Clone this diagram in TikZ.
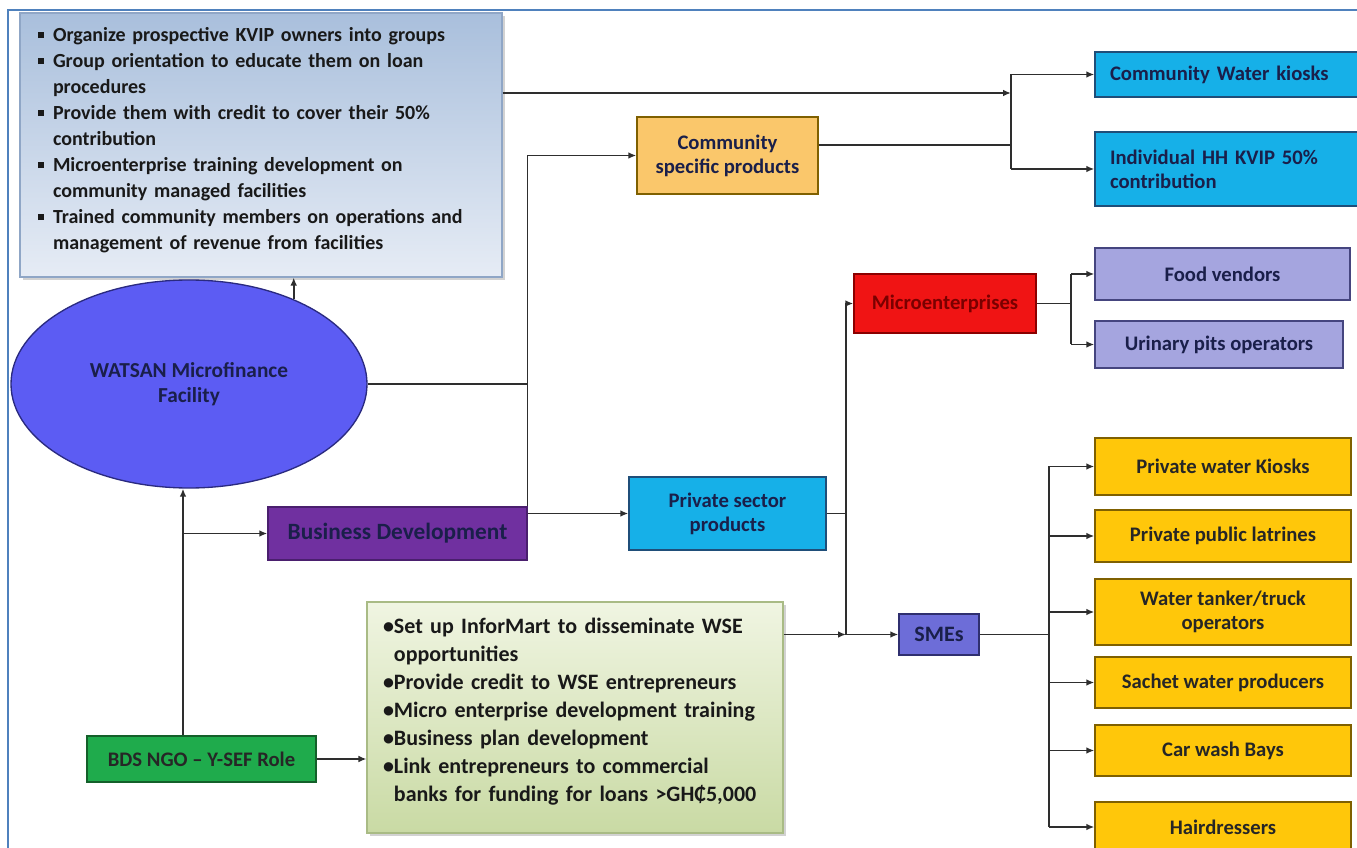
\documentclass[tikz,border=0pt]{standalone}
\usepackage{fontspec}
\setmainfont{Carlito}
\usetikzlibrary{arrows.meta,shapes.geometric,shadows}
\definecolor{frameblue}{HTML}{4F81BD}
\definecolor{navy}{HTML}{1A1F4A}
\definecolor{linec}{HTML}{2E2E2E}
\definecolor{infotop}{HTML}{A9BFDC}
\definecolor{infobot}{HTML}{E6ECF5}
\definecolor{infoedge}{HTML}{8FA6C6}
\definecolor{ellfill}{HTML}{5C5CF3}
\definecolor{elledge}{HTML}{2A2A80}
\definecolor{bdfill}{HTML}{7030A0}
\definecolor{bdedge}{HTML}{4A1F6E}
\definecolor{cyanfill}{HTML}{16B0E8}
\definecolor{cyanedge}{HTML}{1F4E79}
\definecolor{orfill}{HTML}{FAC76B}
\definecolor{oredge}{HTML}{7F6000}
\definecolor{redfill}{HTML}{F01414}
\definecolor{rededge}{HTML}{8B0000}
\definecolor{redtext}{HTML}{7A0000}
\definecolor{lavfill}{HTML}{A5A5DF}
\definecolor{lavedge}{HTML}{45457F}
\definecolor{smefill}{HTML}{6D6DD8}
\definecolor{smeedge}{HTML}{2F2F6F}
\definecolor{yelfill}{HTML}{FFC70A}
\definecolor{yeledge}{HTML}{7F6000}
\definecolor{grnfill}{HTML}{1FAB4C}
\definecolor{grnedge}{HTML}{14602A}
\definecolor{gtop}{HTML}{F0F5E2}
\definecolor{gbot}{HTML}{C9DAA4}
\definecolor{gedge}{HTML}{A9BB85}
\newcommand\sqbul{\makebox[11pt][l]{\rule[0.3ex]{0.3em}{0.3em}}}
\newcommand\gind{\phantom{•}}
\begin{document}
\begin{tikzpicture}[x=0.75pt,y=-0.75pt,
  rect/.style n args={4}{minimum width={(#3-#1)*0.75pt},minimum height={(#4-#2)*0.75pt},
     at={({(#1+#3)/2},{(#2+#4)/2})}},
  conn/.style={draw=linec,line width=1.2pt},
  arr/.style={conn,-{Latex[length=6pt,width=5pt]}},
  bx/.style={draw,line width=1pt,inner sep=0pt,text=navy,font=\bfseries\fontsize{15.5}{18}\selectfont,align=center},
  cyanbox/.style={bx,fill=cyanfill,draw=cyanedge},
  yelbox/.style={bx,fill=yelfill,draw=yeledge,text=black!85},
  lavbox/.style={bx,fill=lavfill,draw=lavedge},
  shad/.style={drop shadow={shadow xshift=2pt,shadow yshift=-2pt,opacity=0.35}}
]
\useasboundingbox (0,0) rectangle (1357,848);
\fill[white] (0,0) rectangle (1357,848);
\draw[frameblue,line width=1.6pt] (8,10) rectangle (1370,860);

% info box (top left)
\node[shad,draw=infoedge,line width=0.8pt,top color=infotop,bottom color=infobot,inner sep=0pt,
  rect={20}{13}{502}{277},align=left,text width=334pt,text=black!90,
  font=\bfseries\fontsize{15}{19.5}\selectfont] (info) {%
\sqbul Organize prospective KVIP owners into groups\\
\sqbul Group orientation to educate them on loan\\
\hspace*{11pt}procedures\\
\sqbul Provide them with credit to cover their 50\%\\
\hspace*{11pt}contribution\\
\sqbul Microenterprise training development on\\
\hspace*{11pt}community managed facilities\\
\sqbul Trained community members on operations and\\
\hspace*{11pt}management of revenue from facilities\\[-9pt]\mbox{}};

% ellipse
\node[ellipse,draw=elledge,line width=1pt,fill=ellfill,minimum width=267pt,minimum height=156pt,inner sep=0pt,
  align=center,text=navy,font=\bfseries\fontsize{16}{19}\selectfont] (wm) at (189,384) {WATSAN Microfinance\\Facility};

% boxes
\node[bx,fill=orfill,draw=oredge,rect={637}{117}{818}{194}] (csp) {Community\\specific products};
\node[bx,fill=bdfill,draw=bdedge,font=\bfseries\fontsize{17.5}{20}\selectfont,rect={268}{507}{527}{560}] (bd) {Business Development};
\node[bx,fill=cyanfill,draw=cyanedge,rect={629}{477}{826}{550}] (psp) {Private sector\\products};
\node[bx,fill=redfill,draw=rededge,text=redtext,rect={854}{274}{1036}{333}] (micro) {Microenterprises};
\node[bx,fill=smefill,draw=smeedge,font=\bfseries\fontsize{16.5}{19}\selectfont,rect={899}{614}{979}{655}] (sme) {SMEs};
\node[bx,fill=grnfill,draw=grnedge,text=black!85,rect={87}{736}{316}{782}] (bds) {BDS NGO -- Y-SEF Role};

\node[cyanbox,rect={1095}{52}{1365}{97},align=left,text width=180pt] (cwk) {Community Water kiosks};
\node[cyanbox,rect={1095}{132}{1365}{206},align=left,text width=180pt] (ihh) {Individual HH KVIP 50\%\\contribution};

\node[lavbox,rect={1095}{248}{1350}{300}] (fv) {Food vendors};
\node[lavbox,rect={1095}{321}{1343}{368}] (up) {Urinary pits operators};

\node[yelbox,rect={1095}{438}{1351}{495}] (y1) {Private water Kiosks};
\node[yelbox,rect={1095}{510}{1351}{562}] (y2) {Private public latrines};
\node[yelbox,rect={1095}{579}{1351}{645}] (y3) {Water tanker/truck\\operators};
\node[yelbox,rect={1095}{657}{1351}{708}] (y4) {Sachet water producers};
\node[yelbox,rect={1095}{725}{1351}{776}] (y5) {Car wash Bays};
\node[yelbox,rect={1095}{802}{1351}{852}] (y6) {Hairdressers};

% green info box
\node[shad,draw=gedge,line width=0.8pt,top color=gtop,bottom color=gbot,inner sep=0pt,
  rect={367}{602}{783}{833},align=left,text width=288pt,text=black!90,
  font=\bfseries\fontsize{16.5}{21}\selectfont] (g) {%
•Set up InforMart to disseminate WSE\\
\gind opportunities\\
•Provide credit to WSE entrepreneurs\\
•Micro enterprise development training\\
•Business plan development\\
•Link entrepreneurs to commercial\\
\gind banks for funding for loans >GH₵5,000\\[-10pt]\mbox{}};

% junction coordinates
\coordinate (j1) at (1011,93);
\coordinate (jv) at (183,533);
\coordinate (j2) at (846,500);
\coordinate (j3) at (1071,300);
\coordinate (j4) at (1049,600);
\coordinate (cspout) at (818,145);

% connectors
\draw[arr] (info.east |- j1) -- (j1);
\draw[conn] (j1 |- cwk.west) -- (j1 |- ihh.west);
\draw[arr] (j1 |- cwk.west) -- (cwk.west);
\draw[arr] (j1 |- ihh.west) -- (ihh.west);
\draw[conn] (csp.east |- cspout) -- (j1 |- cspout);

\draw[arr] (wm.39) -- (wm.39 |- info.south);
\draw[conn] (wm.east) -- (wm.east -| bd.north east);
\draw[arr] (bd.north east) |- (csp.west);

\draw[arr] (jv |- bds.north) -- (jv |- wm.south);
\draw[arr] (jv |- bd.west) -- (bd.west);
\draw[arr] (bd.east |- psp.west) -- (psp.west);
\draw[arr] (bds.east) -- (g.west |- bds.east);

\draw[conn] (psp.east) -- (psp.east -| j2);
\draw[conn] (j2 |- micro.west) -- (j2 |- sme.west);
\draw[arr] (j2 |- micro.west) -- (micro.west);
\draw[arr] (g.east |- sme.west) -- (j2 |- sme.west);
\draw[arr] (j2 |- sme.west) -- (sme.west);

\draw[conn] (micro.east) -- (micro.east -| j3);
\draw[conn] (j3 |- fv.west) -- (j3 |- up.west);
\draw[arr] (j3 |- fv.west) -- (fv.west);
\draw[arr] (j3 |- up.west) -- (up.west);

\draw[conn] (sme.east) -- (sme.east -| j4);
\draw[conn] (j4 |- y1.west) -- (j4 |- y6.west);
\foreach \t in {y1,y2,y3,y4,y5,y6}{\draw[arr] (j4 |- \t.west) -- (\t.west);}
\end{tikzpicture}
\end{document}
